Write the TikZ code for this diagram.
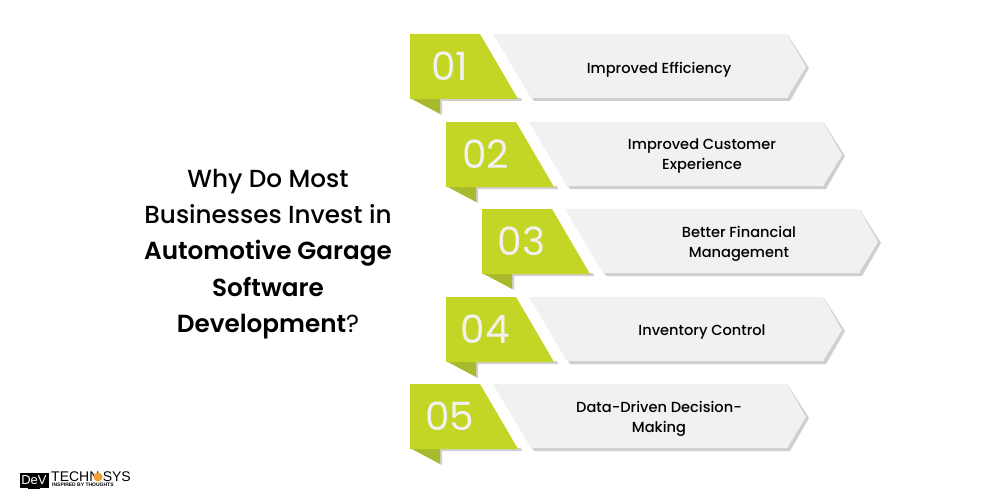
\documentclass[tikz,border=0pt]{standalone}
\usepackage{fontspec}
\setmainfont{Poppins}[UprightFont=* Medium, BoldFont=* SemiBold]
\newfontfamily\bodyfont{Poppins}
\newfontfamily\logofont{Liberation Sans}
\definecolor{limegreen}{HTML}{C3D625}
\definecolor{foldgreen}{HTML}{A9B92E}
\definecolor{panelgray}{HTML}{F1F1F1}
\definecolor{shadowgray}{HTML}{CFCFCF}
\definecolor{logoorange}{HTML}{F0A030}
\tikzset{
  titletext/.style={align=center, font=\fontsize{24.7}{36.2}\selectfont, text=black},
  steptext/.style={align=center, font=\fontsize{14.6}{20}\selectfont, text=black},
  numtext/.style={font=\bodyfont\fontsize{39}{39}\selectfont, text=panelgray},
  logotext/.style={anchor=west, font=\logofont\fontsize{14}{14}\selectfont, inner sep=0pt, text depth=0pt},
}
\begin{document}
\begin{tikzpicture}[x=1pt,y=-1pt]
  \useasboundingbox (0,0) rectangle (1000,500);
  \fill[white] (0,0) rectangle (1000,500);
  % the five rows
  \foreach \dx/\dy/\lx/\ly/\num/\lab in {
      0/0/659/69.5/01/{Improved Efficiency},
      36/88/702/156/02/{Improved Customer\\Experience},
      72/175/739/244/03/{Better Financial\\Management},
      36/263/702/332/04/{Inventory Control},
      0/350/659/419/05/{Data-Driven Decision-\\Making}} {
    \begin{scope}[shift={(\dx,\dy)}]
      \fill[shadowgray] (442,98) -- (521,98) -- (522,101) -- (442,101) -- cycle;
      \fill[shadowgray] (440,98) -- (442,98) -- (442,115) -- (440,114) -- cycle;
      \fill[foldgreen] (410,98) -- (440,98) -- (440,114) -- cycle;
      \fill[limegreen] (410,34) -- (480,34) -- (518,99) -- (410,99) -- cycle;
      \fill[shadowgray] (532,98) -- (534,101) -- (790,101) -- (809,68) -- (788,35) -- (788,98) -- cycle;
      \fill[panelgray] (493,34) -- (787,34) -- (806,67) -- (787,98) -- (531,98) -- cycle;
      \node[numtext] (num\num) at (449.5,66.5) {\num};
    \end{scope}
    \node[steptext] (lab\num) at (\lx,\ly) {\lab};
  }
  % heading
  \node[titletext] (heading) at (268,254) {Why Do Most\\Businesses Invest in\\\textbf{Automotive Garage}\\\textbf{Software}\\\textbf{Development}{\bodyfont ?}};
  % logo
  \fill[black] (28,486) rectangle (40,489);
  \node[fill=black, text=white, inner sep=0pt, font=\logofont\fontsize{13}{13}\selectfont, minimum width=29pt, minimum height=15pt] (logobox) at (34,480) {DeV};
  \node[logotext] (logoleft) at (51,477) {TECHN};
  \node[circle, fill=logoorange, minimum size=9pt, inner sep=0pt] (logogear) at (98,477) {};
  \node[logotext, anchor=east] (logoright) at (131,477) {SYS};
  \node[anchor=north west, font=\logofont\bfseries\fontsize{5}{5}\selectfont, inner sep=0pt, text height=3.6pt, text depth=0pt] (logotag) at (52,483) {INSPIRED BY THOUGHTS};
\end{tikzpicture}
\end{document}
